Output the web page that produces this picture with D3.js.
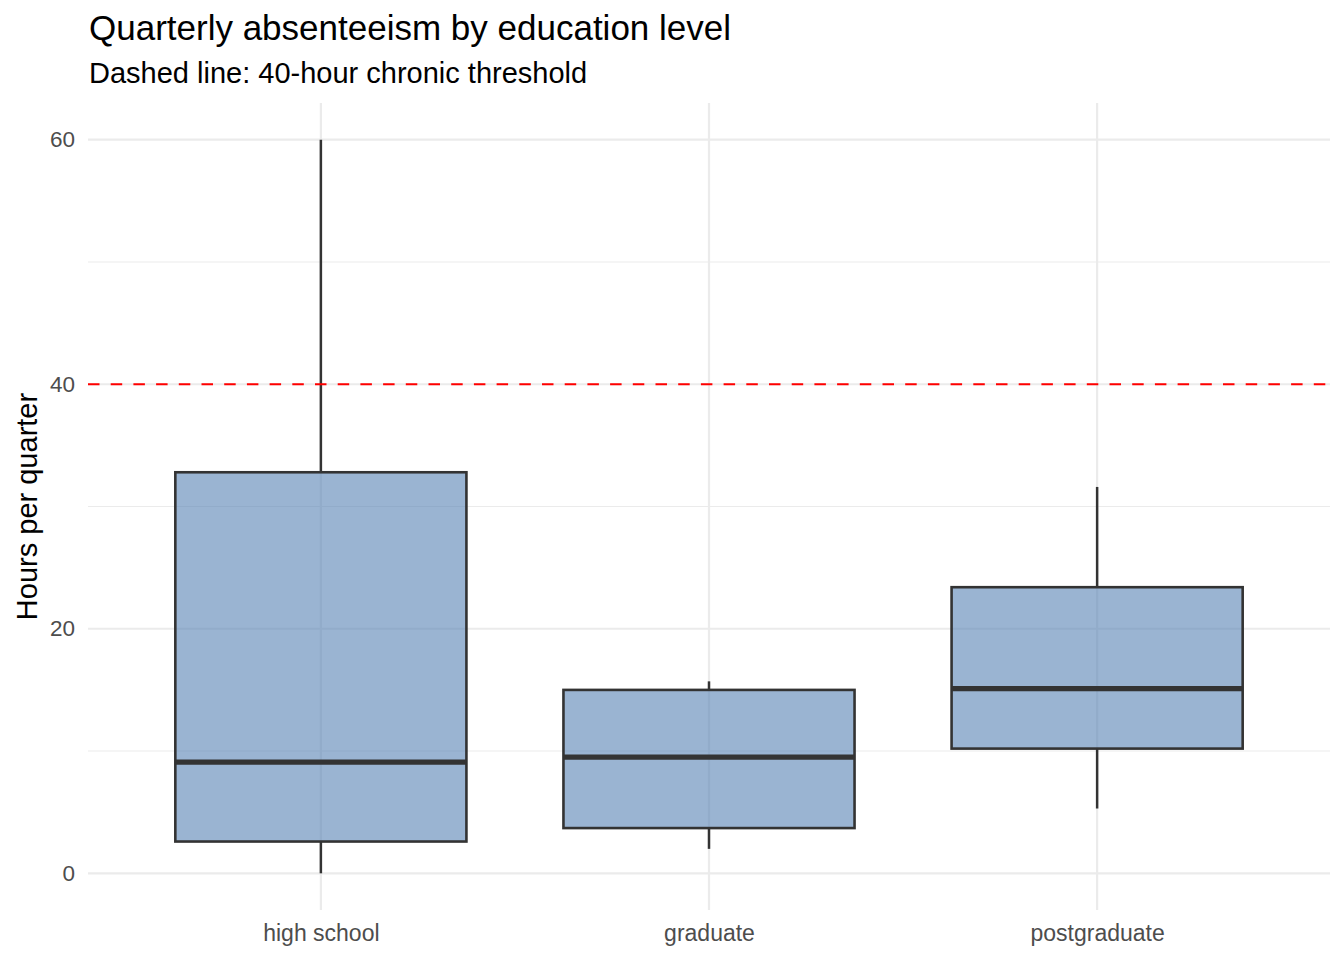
<!DOCTYPE html>
<html>
<head>
<meta charset="utf-8">
<script src="https://cdn.jsdelivr.net/npm/d3@7"></script>
<style>
  body { margin: 0; background: #fff; }
  svg { display: block; font-family: "Liberation Sans", Arial, Helvetica, sans-serif; }
</style>
</head>
<body>
<div id="chart"></div>
<script>
// data
const levels = ["high school", "graduate", "postgraduate"];
const whiskerLow = [0, 2.0, 5.3];
const q1 = [2.6, 3.7, 10.2];
const median = [9.1, 9.5, 15.1];
const q3 = [32.8, 15.0, 23.4];
const whiskerHigh = [60, 15.7, 31.6];
const yTicks = [0, 20, 40, 60];
const yMinor = [10, 30, 50];
const threshold = 40;

const margin = { top: 103, right: 14, bottom: 50, left: 88 };
const W = 1344, H = 960;
const width = W - margin.left - margin.right;
const height = H - margin.top - margin.bottom;

const svg = d3.select("#chart").append("svg")
    .attr("width", W)
    .attr("height", H);

const g = svg.append("g")
    .attr("transform", `translate(${margin.left},${margin.top})`);

// discrete scale like ggplot: 0.6 step of padding each side
const x = d3.scalePoint().domain(levels).range([0, width]).padding(0.6);
const boxW = x.step() * 0.75;

const y = d3.scaleLinear().domain([-3, 63]).range([height, 0]);

// grid
g.selectAll(".minor").data(yMinor).join("line")
    .attr("x1", 0).attr("x2", width)
    .attr("y1", d => y(d)).attr("y2", d => y(d))
    .attr("stroke", "#ebebeb").attr("stroke-width", 1.1);
g.selectAll(".major").data(yTicks).join("line")
    .attr("x1", 0).attr("x2", width)
    .attr("y1", d => y(d)).attr("y2", d => y(d))
    .attr("stroke", "#ebebeb").attr("stroke-width", 2.2);
g.selectAll(".vmajor").data(levels).join("line")
    .attr("x1", d => x(d)).attr("x2", d => x(d))
    .attr("y1", 0).attr("y2", height)
    .attr("stroke", "#ebebeb").attr("stroke-width", 2.2);

// axis labels
const yAxis = d3.axisLeft(y).tickValues(yTicks).tickSize(0).tickPadding(13);
g.append("g").call(yAxis)
    .call(s => s.select(".domain").remove())
    .call(s => s.selectAll("text")
        .attr("fill", "#4d4d4d")
        .style("font-size", "22.5px")
        .style("font-family", "Liberation Sans, Arial, sans-serif"));

const xAxis = d3.axisBottom(x).tickSize(0).tickPadding(15);
g.append("g").attr("transform", `translate(0,${height})`).call(xAxis)
    .call(s => s.select(".domain").remove())
    .call(s => s.selectAll("text")
        .attr("fill", "#4d4d4d")
        .style("font-size", "23px")
        .style("font-family", "Liberation Sans, Arial, sans-serif"));

// boxes
const rows = levels.map((lv, i) => ({
    level: lv, lo: whiskerLow[i], q1: q1[i], med: median[i], q3: q3[i], hi: whiskerHigh[i]
}));

const box = g.selectAll(".box").data(rows).join("g").attr("class", "box");

box.append("line")
    .attr("x1", d => x(d.level)).attr("x2", d => x(d.level))
    .attr("y1", d => y(d.q3)).attr("y2", d => y(d.hi))
    .attr("stroke", "#333333").attr("stroke-width", 2.5);
box.append("line")
    .attr("x1", d => x(d.level)).attr("x2", d => x(d.level))
    .attr("y1", d => y(d.q1)).attr("y2", d => y(d.lo))
    .attr("stroke", "#333333").attr("stroke-width", 2.5);
box.append("rect")
    .attr("x", d => x(d.level) - boxW / 2)
    .attr("width", boxW)
    .attr("y", d => y(d.q3))
    .attr("height", d => y(d.q1) - y(d.q3))
    .attr("fill", "#5782b4").attr("fill-opacity", 0.6)
    .attr("stroke", "#333333").attr("stroke-width", 2.6);
box.append("line")
    .attr("x1", d => x(d.level) - boxW / 2).attr("x2", d => x(d.level) + boxW / 2)
    .attr("y1", d => y(d.med)).attr("y2", d => y(d.med))
    .attr("stroke", "#333333").attr("stroke-width", 5.2);

// threshold line
g.append("line")
    .attr("x1", 0).attr("x2", width)
    .attr("y1", y(threshold)).attr("y2", y(threshold))
    .attr("stroke", "red").attr("stroke-width", 2.2)
    .attr("stroke-dasharray", "11.5,11.2");

// titles
svg.append("text")
    .attr("x", 89).attr("y", 40)
    .attr("fill", "#000")
    .style("font-size", "35px")
    .text("Quarterly absenteeism by education level");
svg.append("text")
    .attr("x", 89).attr("y", 83)
    .attr("fill", "#000")
    .style("font-size", "29px")
    .text("Dashed line: 40-hour chronic threshold");
svg.append("text")
    .attr("transform", `translate(37,${margin.top + height / 2}) rotate(-90)`)
    .attr("text-anchor", "middle")
    .attr("fill", "#000")
    .style("font-size", "29px")
    .text("Hours per quarter");
</script>
</body>
</html>
